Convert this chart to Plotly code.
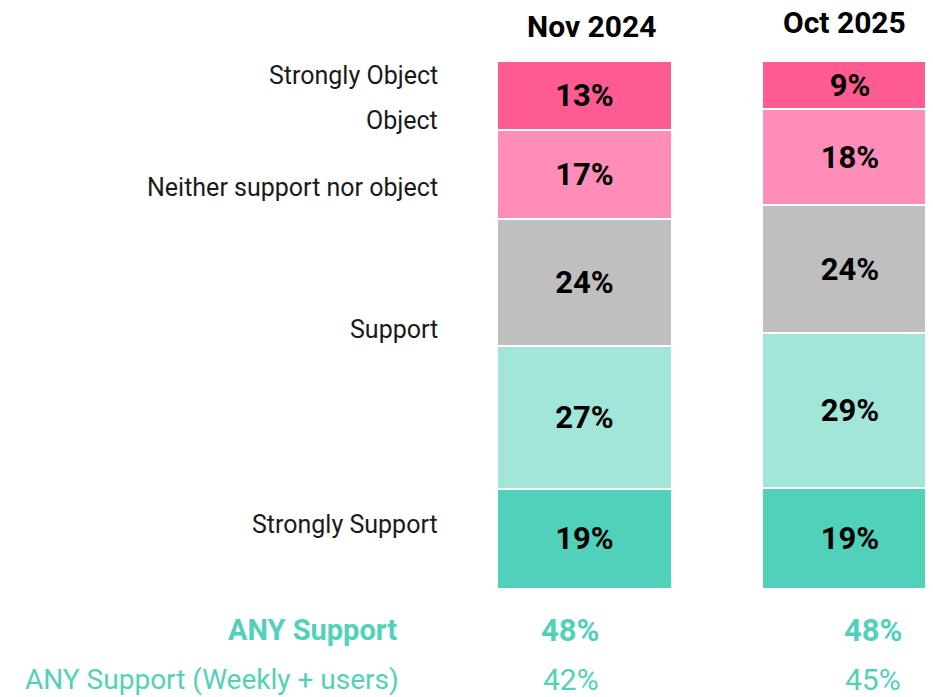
import plotly.graph_objects as go

# survey waves
waves = ["Nov 2024", "Oct 2025"]

# answer categories, bottom of the stack first
categories = ["Strongly Support", "Support", "Neither support nor object", "Object", "Strongly Object"]
strongly_support = [19, 19]
support = [27, 29]
neither = [24, 24]
object_ = [17, 18]
strongly_object = [13, 9]

any_support = [48, 48]
any_support_weekly = [42, 45]

colors = ["#52D1BA", "#A1E6D8", "#BFBFBF", "#FF8DB8", "#FF5B93"]
series = [strongly_support, support, neither, object_, strongly_object]

FONT = "Roboto"
TEAL = "#52D1BA"

fig = go.Figure()
for name, vals, col in zip(categories, series, colors):
    fig.add_trace(go.Bar(
        x=waves, y=vals, name=name,
        marker=dict(color=col, line=dict(color="white", width=2)),
        width=0.66,
        text=[f"{v}%" for v in vals],
        textposition="inside", insidetextanchor="middle", textangle=0,
        textfont=dict(family=FONT, size=31, color="black", weight="bold"),
        hoverinfo="skip",
    ))

W, H = 933, 697
PAD = 8  # page body margin the figure sits inside


def py(ypx):
    # screen pixel row -> paper y
    return 1 - (ypx - PAD) / H


def px(xpx):
    return (xpx - PAD) / W


ann = []
# column headers
for wave, xs, ypx in zip(waves, [7, -6], [26, 23]):
    ann.append(dict(x=wave, y=py(ypx), xref="x", yref="paper", text=f"<b>{wave}</b>",
                    xanchor="center", yanchor="middle", showarrow=False, xshift=xs,
                    font=dict(family=FONT, size=30, color="black")))

# category labels on the left
for name, ypx in zip(["Strongly Object", "Object", "Neither support nor object", "Support", "Strongly Support"],
                     [75, 121, 187, 330, 524]):
    ann.append(dict(x=px(440), y=py(ypx), xref="paper", yref="paper", text=name,
                    xanchor="right", yanchor="middle", showarrow=False,
                    font=dict(family=FONT, size=25, color="#1a1a1a")))

# summary rows
ann.append(dict(x=px(399), y=py(630), xref="paper", yref="paper", text="<b>ANY Support</b>",
                xanchor="right", yanchor="middle", showarrow=False,
                font=dict(family=FONT, size=29, color=TEAL)))
ann.append(dict(x=px(401), y=py(679), xref="paper", yref="paper", text="ANY Support (Weekly + users)",
                xanchor="right", yanchor="middle", showarrow=False,
                font=dict(family=FONT, size=28, color=TEAL)))
for wave, a, b, xs in zip(waves, any_support, any_support_weekly, [-14, 23]):
    ann.append(dict(x=wave, y=py(630), xref="x", yref="paper", text=f"<b>{a}%</b>", xshift=xs,
                    xanchor="center", yanchor="middle", showarrow=False,
                    font=dict(family=FONT, size=31, color=TEAL)))
    ann.append(dict(x=wave, y=py(679), xref="x", yref="paper", text=f"{b}%", xshift=xs,
                    xanchor="center", yanchor="middle", showarrow=False,
                    font=dict(family=FONT, size=30, color=TEAL)))

# bar centres at ~584px and ~850px on screen, baseline at ~589px, 5.28px per %
x0px, step = 584.5 - PAD, 265.5
base_px, per_pct = 589 - PAD, 5.28
fig.update_layout(
    width=W, height=H,
    margin=dict(l=0, r=0, t=0, b=0),
    barmode="stack", barnorm="percent",
    plot_bgcolor="white", paper_bgcolor="white",
    showlegend=False,
    annotations=ann,
    xaxis=dict(range=[-x0px / step, (W - x0px) / step], showticklabels=False,
               showgrid=False, zeroline=False, fixedrange=True),
    yaxis=dict(range=[-(H - base_px) / per_pct, base_px / per_pct], showticklabels=False,
               showgrid=False, zeroline=False, fixedrange=True),
)

fig.write_html("out.html")
